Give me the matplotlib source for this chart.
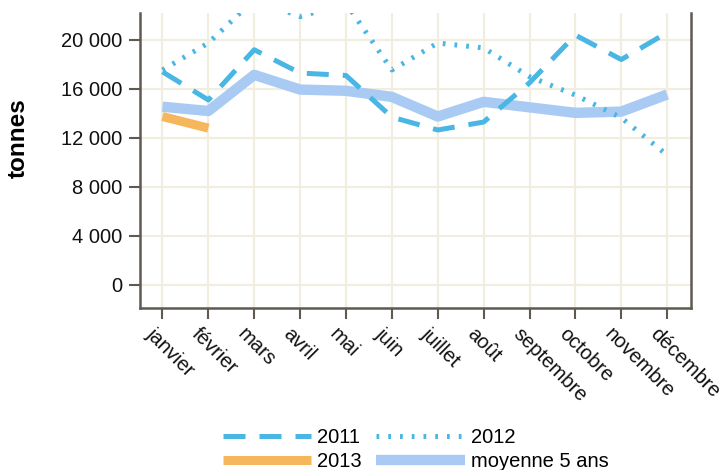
import matplotlib
matplotlib.use("Agg")
import matplotlib.pyplot as plt
import matplotlib.transforms as mtrans
from matplotlib.ticker import FuncFormatter

months = ["janvier", "février", "mars", "avril", "mai", "juin", "juillet",
          "août", "septembre", "octobre", "novembre", "décembre"]
s2011 = [17400, 15100, 19200, 17300, 17100, 13700, 12650, 13300, 16500, 20400, 18400, 20600]
s2012 = [17550, 19750, 23300, 21900, 23000, 17550, 19750, 19350, 17000, 15500, 13650, 10600]
s2013 = [13750, 12800]
avg5 = [14550, 14200, 17150, 15950, 15850, 15350, 13750, 14950, 14500, 14050, 14150, 15550]
yticks = [0, 4000, 8000, 12000, 16000, 20000]

plt.rcParams['font.family'] = ['Liberation Sans', 'DejaVu Sans']

fig = plt.figure(figsize=(7.27, 4.70), dpi=100)
ax = fig.add_axes([140/727, 1-308/470, (691-140)/727, (308-13)/470])

blue = "#4AB6E4"
x = list(range(len(months)))
ax.plot(x, avg5, color="#A9CBF3", lw=7.5, solid_capstyle="butt", label="moyenne 5 ans", zorder=3)
ax.plot(x, s2011, color=blue, lw=3.6, linestyle=(0, (4.4, 2.8)), dash_capstyle="butt",
        label="2011", zorder=4)
ax.plot(x, s2012, color=blue, lw=3.6, linestyle=(0, (0.55, 1.8)), dash_capstyle="butt",
        label="2012", zorder=4)
ax.plot(x[:len(s2013)], s2013, color="#F6B75C", lw=6.5, solid_capstyle="butt", label="2013", zorder=5)

ax.set_xlim(-0.49, 11.52)
ax.set_ylim(-1880, 22200)
ax.set_yticks(yticks)
ax.yaxis.set_major_formatter(FuncFormatter(lambda v, p: f"{int(v):,}".replace(",", " ")))
ax.set_xticks(x)
ax.set_xticklabels(months, rotation=-45, ha="left", va="top", rotation_mode="anchor")

ax.grid(True, color="#F1EEDF", lw=1.6)
ax.set_axisbelow(True)
for side in ["left", "bottom", "right"]:
    ax.spines[side].set_color("#5E5A52")
    ax.spines[side].set_linewidth(1.8)
ax.spines["top"].set_visible(False)
ax.tick_params(axis="both", direction="out", length=8, width=1.5, color="#5E5A52",
               labelsize=14.5, labelcolor="#111111")
ax.tick_params(axis="y", pad=5)
ax.tick_params(axis="x", pad=4)
off = mtrans.ScaledTranslation(-5/72, 0, fig.dpi_scale_trans)
for lbl in ax.get_xticklabels():
    lbl.set_transform(lbl.get_transform() + off)

ax.set_ylabel("tonnes", fontsize=17.5, fontweight="bold")
ax.yaxis.set_label_coords(-0.200, 0.576)

h, l = ax.get_legend_handles_labels()
order = ["2011", "2013", "2012", "moyenne 5 ans"]
hd = dict(zip(l, h))
leg = ax.legend([hd[k] for k in order], order, loc="center", bbox_to_anchor=(0.5, -0.48),
                ncol=2, frameon=False, fontsize=14.5, handlelength=4.4, handletextpad=0.3,
                columnspacing=0.7, labelspacing=0.25)

fig.savefig("out.png", dpi=100)
